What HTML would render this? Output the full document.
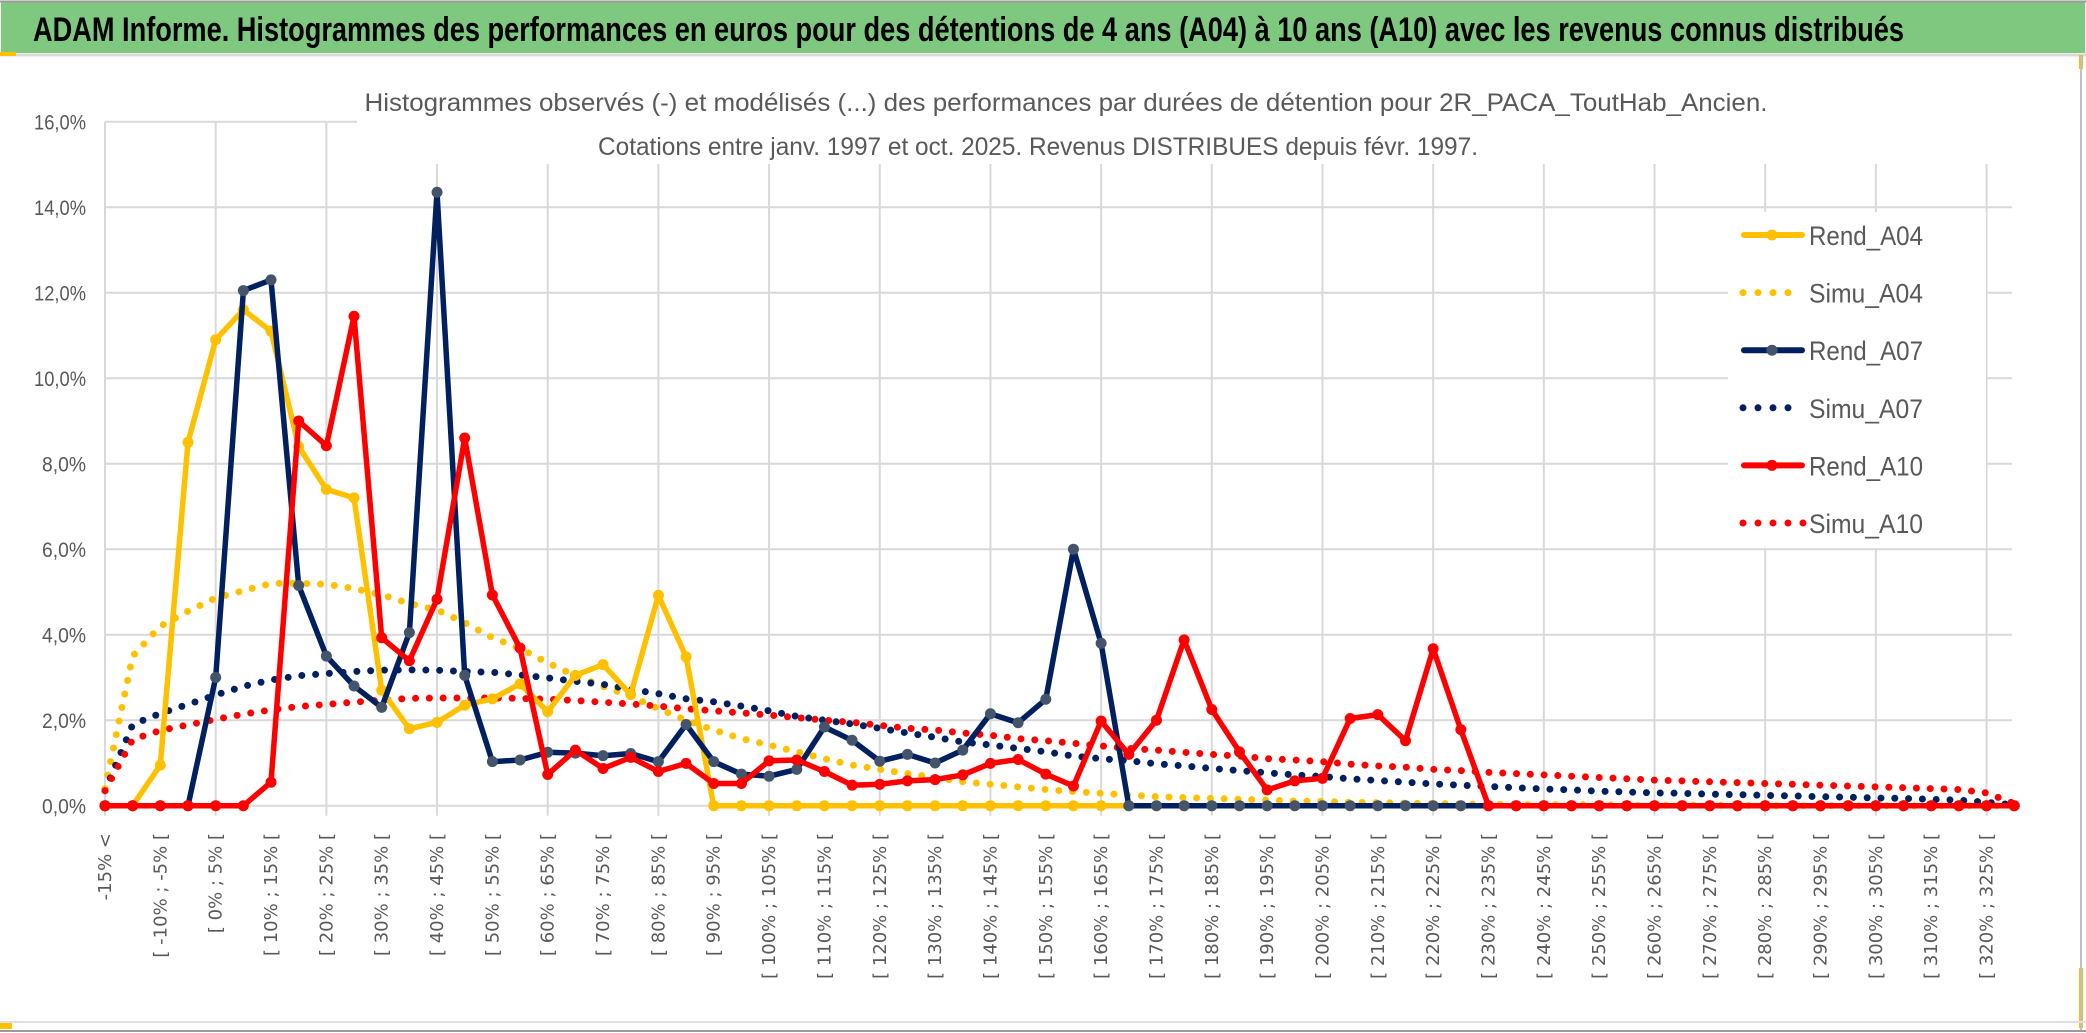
<!DOCTYPE html>
<html><head><meta charset="utf-8"><style>
html,body{margin:0;padding:0;background:#fff;width:2086px;height:1033px;overflow:hidden}
svg{display:block}
</style></head><body>
<svg id="chart" width="2086" height="1033" viewBox="0 0 2086 1033" xmlns="http://www.w3.org/2000/svg">
<rect x="0" y="0" width="2086" height="1033" fill="#fff"/>
<rect x="1" y="2" width="2084" height="51" fill="#7EC97F"/>
<line x1="0" y1="1.5" x2="2086" y2="1.5" stroke="#9a9a9a" stroke-width="2"/>
<text x="33" y="41" font-family="Liberation Sans, sans-serif" font-weight="bold" font-size="34" fill="#000" textLength="1871" lengthAdjust="spacingAndGlyphs">ADAM Informe. Histogrammes des performances en euros pour des détentions de 4 ans (A04) à 10 ans (A10) avec les revenus connus distribués</text>
<line x1="0" y1="55" x2="2086" y2="55" stroke="#d9d9d9" stroke-width="3"/>
<rect x="0" y="52" width="16" height="4" fill="#FFC000"/>
<rect x="2079" y="55" width="4" height="14" fill="#FFC000"/>
<rect x="2079" y="968" width="4" height="60" fill="#FFC000"/>
<rect x="0" y="1023" width="12" height="6" fill="#FFC000"/>
<line x1="2081" y1="55" x2="2081" y2="1030" stroke="#bfbfbf" stroke-width="2"/>
<line x1="0" y1="1022" x2="2086" y2="1022" stroke="#e0e0e0" stroke-width="2"/>
<line x1="0" y1="1031" x2="2086" y2="1031" stroke="#9a9a9a" stroke-width="2"/>
<g id="grid"></g>
<g id="yticks"></g>
<g id="xticks"></g>
<rect x="357" y="58" width="1665" height="106" fill="#fff"/>
<text x="1066" y="111" text-anchor="middle" font-family="Liberation Sans, sans-serif" font-size="25" fill="#595959" textLength="1403" lengthAdjust="spacingAndGlyphs">Histogrammes observés (-) et modélisés (...) des performances par durées de détention pour 2R_PACA_ToutHab_Ancien.</text>
<text x="1038" y="155" text-anchor="middle" font-family="Liberation Sans, sans-serif" font-size="25" fill="#595959" textLength="880" lengthAdjust="spacingAndGlyphs">Cotations entre janv. 1997 et oct. 2025. Revenus DISTRIBUES depuis févr. 1997.</text>
<g id="series"></g>
<g id="legend"></g>
</svg>
<script>
const categories = ["-15% <"];
for (let k = 1; k < 70; k++) { const lo = -20 + 5 * k; categories.push("[ " + lo + "% ; " + (lo + 5) + "% ["); }
const yTicks = [0, 2, 4, 6, 8, 10, 12, 14, 16];
const yTickLabels = ["0,0%","2,0%","4,0%","6,0%","8,0%","10,0%","12,0%","14,0%","16,0%"];
const rendA04 = [0,0,0.95,8.5,10.9,11.6,11.1,8.4,7.4,7.2,2.7,1.8,1.95,2.35,2.5,2.85,2.2,3.05,3.3,2.6,4.92,3.48,0,0,0,0,0,0,0,0,0,0,0,0,0,0,0,0,0,0,0,0,0,0,0,0,0,0,0,0,0,0,0,0,0,0,0,0,0,0,0,0,0,0,0,0,0,0,0,0];
const simuA04 = [0.4,3.5,4.2,4.55,4.86,5.03,5.2,5.2,5.18,5.08,4.93,4.73,4.58,4.28,3.93,3.68,3.34,3.04,2.79,2.56,2.27,2.0,1.77,1.57,1.42,1.26,1.1,0.95,0.85,0.75,0.66,0.56,0.5,0.44,0.38,0.33,0.29,0.25,0.21,0.19,0.17,0.15,0.13,0.11,0.1,0.08,0.07,0.06,0.05,0.04,0.03,0.03,0.02,0.02,0.02,0.01,0.01,0.01,0.01,0.01,0,0,0,0,0,0,0,0,0,0];
const rendA07 = [0,0,0,0,3.0,12.05,12.3,5.15,3.5,2.8,2.3,4.05,14.35,3.05,1.03,1.07,1.25,1.23,1.17,1.22,1.03,1.9,1.03,0.74,0.69,0.85,1.84,1.53,1.04,1.2,1.0,1.3,2.15,1.94,2.49,6.0,3.8,0,0,0,0,0,0,0,0,0,0,0,0,0,0,0,0,0,0,0,0,0,0,0,0,0,0,0,0,0,0,0,0,0];
const simuA07 = [0.35,1.9,2.16,2.37,2.59,2.79,2.94,3.04,3.09,3.14,3.17,3.18,3.17,3.14,3.12,3.06,2.99,2.91,2.84,2.72,2.62,2.5,2.43,2.33,2.22,2.09,2.0,1.91,1.81,1.7,1.6,1.49,1.42,1.34,1.26,1.16,1.1,1.05,0.98,0.93,0.87,0.82,0.77,0.72,0.68,0.63,0.59,0.55,0.51,0.48,0.45,0.42,0.39,0.37,0.34,0.32,0.3,0.29,0.27,0.26,0.24,0.23,0.21,0.2,0.18,0.17,0.15,0.13,0.08,0.02];
const rendA10 = [0,0,0,0,0,0,0.55,9.0,8.42,11.45,3.93,3.39,4.83,8.6,4.93,3.69,0.73,1.3,0.87,1.13,0.8,0.99,0.52,0.52,1.05,1.07,0.8,0.48,0.5,0.58,0.61,0.72,0.99,1.08,0.74,0.46,1.98,1.2,2.0,3.88,2.25,1.26,0.37,0.58,0.64,2.04,2.13,1.52,3.67,1.78,0,0,0,0,0,0,0,0,0,0,0,0,0,0,0,0,0,0,0,0];
const simuA10 = [0.35,1.55,1.76,1.89,2.02,2.14,2.24,2.32,2.37,2.42,2.47,2.51,2.52,2.52,2.52,2.51,2.49,2.46,2.42,2.38,2.33,2.27,2.22,2.17,2.12,2.06,2.0,1.95,1.88,1.81,1.77,1.7,1.65,1.57,1.52,1.46,1.4,1.34,1.3,1.25,1.2,1.16,1.1,1.07,1.03,0.97,0.93,0.9,0.85,0.82,0.78,0.75,0.72,0.69,0.66,0.63,0.6,0.58,0.56,0.54,0.52,0.5,0.48,0.46,0.44,0.42,0.4,0.38,0.3,0.05];
const seriesNames = ["Rend_A04","Simu_A04","Rend_A07","Simu_A07","Rend_A10","Simu_A10"];

const NS = "http://www.w3.org/2000/svg";
const X0 = 105, DX = 27.67, Y0 = 805.7, PPU = 42.75, XR = 2012;
function xPos(i){ return X0 + i * DX; }
function yPos(v){ return Y0 - v * PPU; }
function mk(tag, attrs, parent){ const e = document.createElementNS(NS, tag); for (const k in attrs) e.setAttribute(k, attrs[k]); parent.appendChild(e); return e; }

const grid = document.getElementById("grid");
yTicks.forEach((t, i) => {
  const y = yPos(t);
  const l = mk("line", {x1: X0, y1: y, x2: XR, y2: y, stroke: "#d9d9d9", "stroke-width": 2}, grid);
  
  
  const tx = mk("text", {x: 86, y: y + 8, "text-anchor": "end", "font-family": "Liberation Sans, sans-serif", "font-size": 21, fill: "#595959", textLength: t >= 10 ? 52 : 44, lengthAdjust: "spacingAndGlyphs"}, document.getElementById("yticks"));
  tx.textContent = yTickLabels[i];
  
  
});
for (let i = 0; i < categories.length; i += 4) {
  const x = xPos(i);
  const l = mk("line", {x1: x, y1: yPos(16), x2: x, y2: Y0 + 10, stroke: "#d9d9d9", "stroke-width": 2}, grid);
  
  
}
const xt = document.getElementById("xticks");
categories.forEach((c, i) => {
  if (i % 2) return;
  const x = xPos(i) + 6;
  const t = mk("text", {x: 0, y: 0, "text-anchor": "end", transform: `translate(${x},833) rotate(-90)`, "font-family": "DejaVu Sans, sans-serif", "font-size": 18, fill: "#595959"}, xt);
  t.textContent = c;
  
  
});

const S = document.getElementById("series");
function pathD(arr){ return arr.map((v, i) => (i ? "L" : "M") + xPos(i).toFixed(1) + "," + yPos(v).toFixed(1)).join(" "); }
function dotted(arr, color, name){
  const p = mk("path", {d: pathD(arr), fill: "none", stroke: color, "stroke-width": 7, "stroke-linecap": "round", "stroke-dasharray": "0 13.8"}, S);
  
  
}
function solid(arr, color, marker, name){
  const p = mk("path", {d: pathD(arr), fill: "none", stroke: color, "stroke-width": 5.5, "stroke-linejoin": "round"}, S);
  
  
  arr.forEach((v, i) => {
    const m = mk("circle", {cx: xPos(i), cy: yPos(v), r: 5.5, fill: marker}, S);
    
    
  });
}
dotted(simuA04, "#FFC000", "simu-a04-line");
dotted(simuA07, "#002060", "simu-a07-line");
dotted(simuA10, "#FF0000", "simu-a10-line");
solid(rendA04, "#FFC000", "#FFC000", "rend-a04-line");
solid(rendA07, "#002060", "#44546A", "rend-a07-line");
solid(rendA10, "#FF0000", "#FF0000", "rend-a10-line");

const L = document.getElementById("legend");
const bg = mk("rect", {x: 1728, y: 212, width: 258, height: 336, fill: "#fff"}, L);


const lc = [["#FFC000","#FFC000",false],["#FFC000","#FFC000",true],["#002060","#44546A",false],["#002060","#002060",true],["#FF0000","#FF0000",false],["#FF0000","#FF0000",true]];
seriesNames.forEach((n, i) => {
  const y = 235 + i * 57.6;
  const g = mk("g", {}, L);
  
  
  if (lc[i][2]) {
    for (let k = 0; k < (i === 5 ? 5 : 4); k++) mk("circle", {cx: 1743 + k * (i === 5 ? 15 : 15), cy: y, r: 3.5, fill: lc[i][0]}, g);
  } else {
    mk("line", {x1: 1744, y1: y, x2: 1802, y2: y, stroke: lc[i][0], "stroke-width": 6, "stroke-linecap": "round"}, g);
    mk("circle", {cx: 1772, cy: y, r: 5.5, fill: lc[i][1]}, g);
  }
  const t = mk("text", {x: 1809, y: y + 10, "font-family": "Liberation Sans, sans-serif", "font-size": 27, fill: "#595959", textLength: 114, lengthAdjust: "spacingAndGlyphs"}, g);
  t.textContent = n;
});
</script>
</body></html>
